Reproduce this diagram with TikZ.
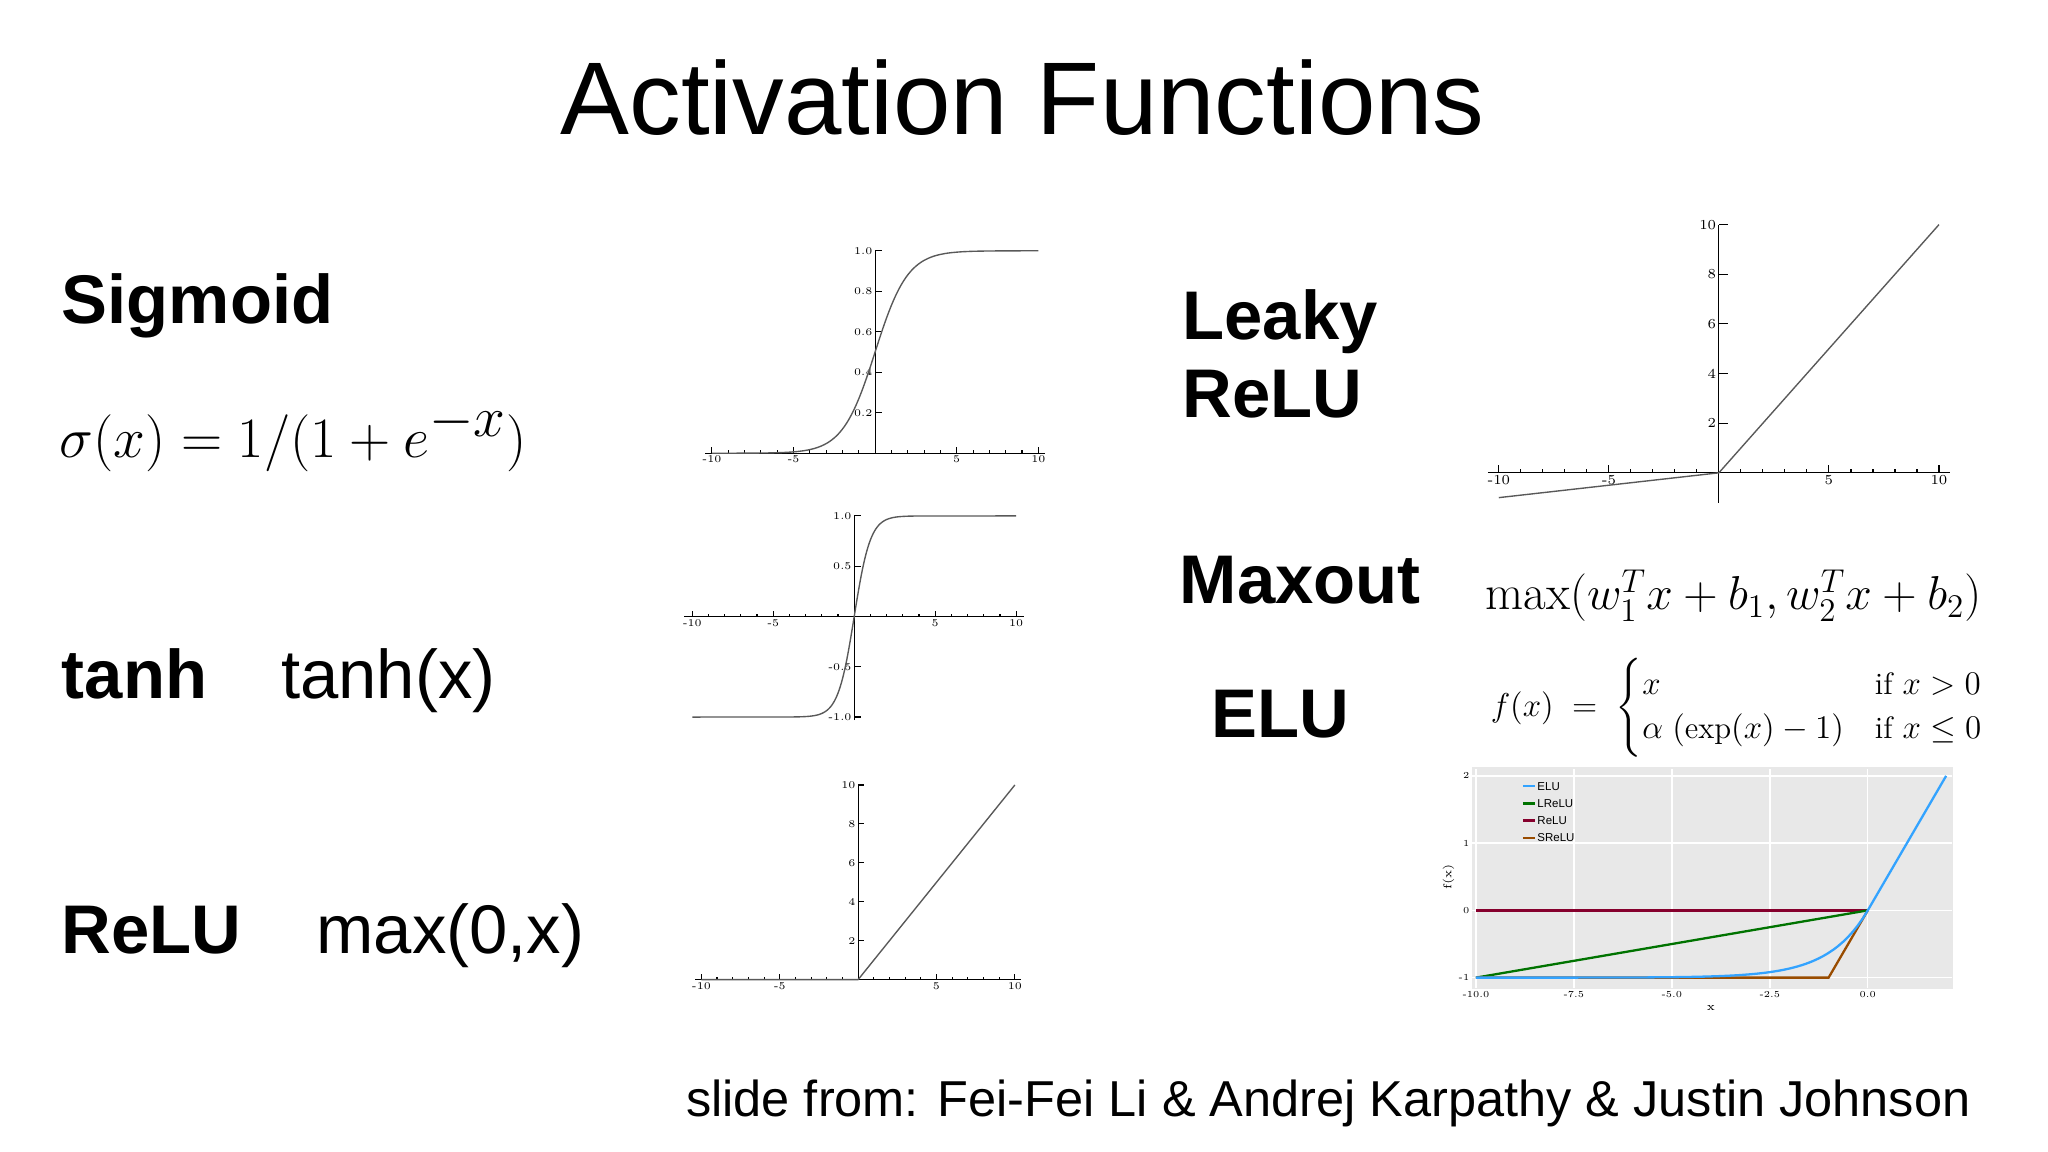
\documentclass[tikz,border=0pt]{standalone}
\usepackage{amsmath}
\usepackage{fontspec}
\setsansfont{Liberation Sans}
\newfontfamily\arial{Liberation Sans}
\begin{document}
\begin{tikzpicture}[x=0.02cm,y=-0.02cm,
  lbl/.style={font=\arial\bfseries\fontsize{30}{36}\selectfont,anchor=base west,inner sep=0},
  reg/.style={font=\arial\fontsize{30}{36}\selectfont,anchor=base west,inner sep=0},
  tk/.style={font=\fontsize{4.5}{5}\selectfont,inner sep=1pt},
  ax/.style={black,line width=0.5pt},
  crv/.style={gray!70!black,line width=0.6pt}]
\useasboundingbox (0,0) rectangle (1568,882);
\node[font=\arial\fontsize{45}{50}\selectfont] (title) at (783,75) {Activation Functions};
% left labels
\node[lbl] (sig) at (47,248) {Sigmoid};
\node[anchor=base west,inner sep=0,font=\fontsize{41}{48}\selectfont] (sigf) at (45,350) {$\sigma(x)=1/(1+e^{-x})$};
\node[lbl] (tanh) at (47,535) {tanh};
\node[reg] (tanhf) at (215,535) {tanh(x)};
\node[lbl] (relu) at (47,730) {ReLU};
\node[reg] (reluf) at (242,730) {max(0,x)};
\node[lbl] (leaky) at (905,260) {Leaky};
\node[lbl] (leaky2) at (905,320) {ReLU};
\node[lbl] (maxout) at (903,462) {Maxout};
\node[anchor=base west,inner sep=0,font=\fontsize{21.5}{26}\selectfont] (maxf) at (1137,467) {$\max(w_1^Tx+b_1,w_2^Tx+b_2)$};
\node[lbl] (elu) at (927,565) {ELU};
\node[anchor=west,inner sep=0,font=\fontsize{13.5}{16}\selectfont] (eluf) at (1141,542) {$f(x)\;=\;\begin{cases}x & \text{if } x>0\\ \alpha\;(\exp(x)-1) & \text{if } x\le 0\end{cases}$};
\node[anchor=base west,inner sep=0,font=\arial\fontsize{22}{26}\selectfont] (credit) at (525,855) {slide from: Fei-Fei Li \& Andrej Karpathy \& Justin Johnson};
% sigmoid plot
\begin{scope}[shift={(670,347)},xscale=12.5,yscale=-155]
\draw[ax] (-10.4,0) -- (10.4,0); \draw[ax] (0,0) -- (0,1.0);
\foreach \t in {-10,-5,5,10}{\draw[ax] (\t,0) -- (\t,0.03); \node[tk,below] at (\t,0) {\t};}
\foreach \t in {-9,...,9}{\draw[ax] (\t,0) -- (\t,0.015);}
\foreach \t in {0.2,0.4,0.6,0.8,1.0}{\draw[ax] (0,\t) -- (0.4,\t); \node[tk,left] at (0,\t) {\t};}
\draw[crv] (-10,0) -- plot[domain=-9:9,samples=120] (\x,{1/(1+exp(-\x))}) -- (10,1);
\end{scope}
% tanh plot
\begin{scope}[shift={(654,472)},xscale=12.4,yscale=-77]
\draw[ax] (-10.5,0) -- (10.5,0); \draw[ax] (0,-1.03) -- (0,1.0);
\foreach \t in {-10,-5,5,10}{\draw[ax] (\t,0) -- (\t,0.05); \node[tk,below] at (\t,0) {\t};}
\foreach \t in {-9,...,9}{\draw[ax] (\t,0) -- (\t,0.025);}
\foreach \t in {-1.0,-0.5,0.5,1.0}{\draw[ax] (0,\t) -- (0.4,\t); \node[tk,left] at (0,\t) {\t};}
\draw[crv] (-10,-1) -- plot[domain=-4:4,samples=100] (\x,{(exp(2*\x)-1)/(exp(2*\x)+1)}) -- (10,1);
\end{scope}
% relu plot
\begin{scope}[shift={(657,750)},xscale=12,yscale=-14.9]
\draw[ax] (-10.4,0) -- (10.4,0); \draw[ax] (0,0) -- (0,10);
\foreach \t in {-10,-5,5,10}{\draw[ax] (\t,0) -- (\t,0.3); \node[tk,below] at (\t,0) {\t};}
\foreach \t in {-9,...,9}{\draw[ax] (\t,0) -- (\t,0.15);}
\foreach \t in {2,4,6,8,10}{\draw[ax] (0,\t) -- (0.4,\t); \node[tk,left] at (0,\t) {\t};}
\draw[crv] (-10,0) -- (0,0) -- (10,10);
\end{scope}
% leaky relu plot
\begin{scope}[shift={(1316,362)},xscale=16.85,yscale=-19]
\draw[ax] (-10.5,0) -- (10.5,0); \draw[ax] (0,-1.2) -- (0,10);
\foreach \t in {-10,-5,5,10}{\draw[ax] (\t,0) -- (\t,0.3); \node[tk,font=\fontsize{6}{7}\selectfont,below] at (\t,0) {\t};}
\foreach \t in {-9,...,9}{\draw[ax] (\t,0) -- (\t,0.15);}
\foreach \t in {2,4,6,8,10}{\draw[ax] (0,\t) -- (0.4,\t); \node[tk,font=\fontsize{6}{7}\selectfont,left] at (0,\t) {\t};}
\draw[crv] (-10,-1) -- (0,0) -- (10,10);
\end{scope}
% ELU plot
\fill[gray!18] (1127,587) rectangle (1495,757);
\begin{scope}[shift={(1430,697)},xscale=30,yscale=-51.5]
\foreach \t in {-10,-7.5,-5,-2.5,0}{\draw[white,line width=0.6pt] (\t,-1.16) -- (\t,2.1);}
\foreach \t in {-1,0,1,2}{\draw[white,line width=0.6pt] (-10.1,\t) -- (2.15,\t);}
\foreach \t/\l in {-10/-10.0,-7.5/-7.5,-5/-5.0,-2.5/-2.5,0/0.0}{\node[tk,font=\fontsize{4}{5}\selectfont,below] at (\t,-1.16) {\l};}
\foreach \t in {-1,0,1,2}{\node[tk,font=\fontsize{4}{5}\selectfont,left] at (-10.1,\t) {\t};}
\node[font=\fontsize{5}{6}\selectfont] at (-4.0,-1.45) {x};
\node[font=\fontsize{5}{6}\selectfont,rotate=90] at (-10.7,0.5) {f(x)};
\draw[purple!70!black,line width=1pt] (-10,0) -- (0,0);
\draw[green!45!black,line width=1pt] (-10,-1) -- (0,0);
\draw[orange!60!black,line width=1pt] (-10,-1) -- (-1,-1) -- (0,0);
\draw[blue!45!cyan!80!white,line width=1pt] plot[domain=-10:0,samples=80] (\x,{exp(\x)-1}) -- (2,2);
\foreach \c/\n [count=\i] in {blue!45!cyan!80!white/ELU,green!45!black/LReLU,purple!70!black/ReLU,orange!60!black/SReLU}{
  \draw[\c,line width=1pt] (-8.8,{2.1-0.255*\i}) -- (-8.5,{2.1-0.255*\i});
  \node[anchor=west,inner sep=1pt,font=\arial\fontsize{5}{6}\selectfont] at (-8.5,{2.1-0.255*\i}) {\n};}
\end{scope}
\end{tikzpicture}
\end{document}
